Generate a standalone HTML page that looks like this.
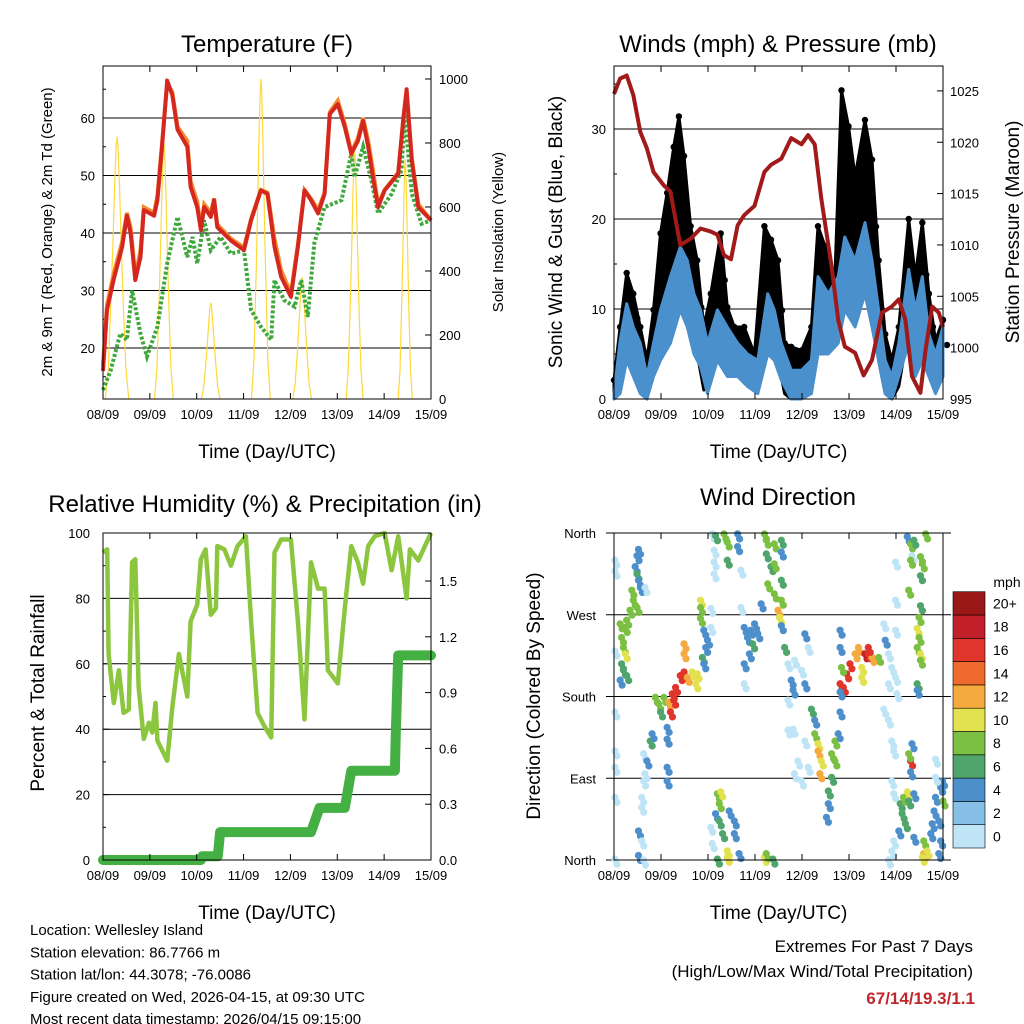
<!DOCTYPE html>
<html><head><meta charset="utf-8">
<style>
body{margin:0;background:#fff;}
svg{display:block;font-family:"Liberation Sans",sans-serif;}
</style></head>
<body>
<svg id="c" width="1024" height="1024" viewBox="0 0 1024 1024"></svg>
<script>
// ---------- DATA ----------
const dayLabels=["08/09","09/09","10/09","11/09","12/09","13/09","14/09","15/09"];
// Temperature (day, F)
const tDays=[0,0.086,0.23,0.41,0.51,0.59,0.69,0.8,0.87,1.09,1.16,1.26,1.37,1.48,1.59,1.8,1.87,2.01,2.09,2.16,2.3,2.37,2.44,2.73,3.01,3.16,3.37,3.51,3.66,3.8,4.01,4.16,4.3,4.44,4.59,4.73,4.84,5.01,5.16,5.3,5.44,5.55,5.66,5.76,5.87,6.01,6.3,6.41,6.48,6.59,6.73,7.0];
const tempRed=[16,26.6,32,37.6,43,40,31.8,35.8,44,43,45.7,55,66.5,64,58,55,48,44.5,40.5,44.5,42.8,45.7,41,38.7,37,42.2,47.4,46.8,37.6,32.4,28.9,37.6,47.4,45.7,43.4,46.8,60.7,62.4,58.4,53.8,56,59.5,55,49.7,44.5,47.4,50.3,60,65,52.6,44.5,42.2];
const tempOrange=[17,27.5,33,38.5,43.5,41,32.5,37,44.5,43.5,46.5,55.5,66,64.5,58.5,56,49,45.5,41,45,43.5,46,41.5,39,37.5,42.5,47.5,47,39,33.5,29.5,38,47.5,46,44,47,61,63,59,54,56.5,60,56,51,45,47.5,50.5,60,64.5,53,45,42.2];
const tdDays=[0,0.16,0.37,0.51,0.62,0.8,0.94,1.16,1.37,1.59,1.8,1.91,2.01,2.16,2.3,2.51,2.73,3.01,3.16,3.37,3.59,3.66,3.87,4.09,4.23,4.37,4.51,4.73,5.09,5.3,5.37,5.55,5.73,5.87,6.16,6.37,6.44,6.59,6.8,7.0];
const dewpoint=[12.7,16,22.5,21.4,30,22.5,18.5,23.7,34.7,42.8,35.8,39.3,34.7,42.2,37,39.3,36.4,37,26.6,23.7,21.4,31.8,28.3,27.2,31.8,25.4,38.2,44.5,45.7,53.8,49.7,55,49.1,43.4,46.8,50.9,60.7,46.8,41.6,42.2];
const solarPeakDay=[0.3,1.3,2.3,3.37,4.25,5.37,6.45];
const solarPeak=[820,800,300,1000,380,780,750];
const solarHalfWidth=[0.25,0.2,0.2,0.2,0.2,0.18,0.15];
// Winds
const gDays=[0,0.13,0.27,0.41,0.56,0.7,0.84,0.99,1.13,1.27,1.38,1.49,1.63,1.77,1.91,2.06,2.27,2.41,2.56,2.77,2.99,3.2,3.34,3.49,3.63,3.77,3.99,4.2,4.34,4.49,4.7,4.84,4.99,5.13,5.34,5.49,5.63,5.77,5.91,6.06,6.27,6.41,6.56,6.7,6.84,7.0];
const gustHi=[2.1,8,14,11.7,8,4.3,9.9,18.4,22.9,28,31.4,27,19.2,15.4,8,11.7,18.4,10.2,8,8,5,19.2,17.7,15.4,6.2,5.8,5.4,8,19.2,17,13.6,34.3,30.3,24.7,31,26.6,15.4,7.2,4.3,8,20,13.6,19.6,11.7,6.5,8.8];
const gustLo=[0,2.5,8,6.2,2.5,0,4.3,9.9,12.5,15.5,17.3,11.7,8,5,1,2.5,8,4.3,2.5,2.5,1,8.8,8,4.3,0.6,0,0,1.4,8,6.2,6.2,17.3,15.5,13.6,13.6,11.7,4.3,0.6,0,1.4,8,5,8,4.3,2.5,3.2];
const wDays=[0,0.13,0.27,0.41,0.56,0.7,0.84,0.99,1.2,1.41,1.56,1.7,1.84,1.99,2.2,2.41,2.63,2.84,3.06,3.27,3.41,3.56,3.77,3.99,4.2,4.34,4.56,4.77,4.91,5.13,5.34,5.49,5.63,5.77,5.91,6.06,6.27,6.41,6.56,6.7,6.84,7.0];
const windHi=[0.6,6.5,10.6,8,6.2,2.5,6.2,9.9,13.6,16.9,15.4,11.7,9.9,6.2,9.9,8,6.2,5,4.3,11.7,9.9,6.2,3.2,3.2,4.3,13.6,11.7,13.6,18,15.4,19.6,15.4,9.9,4.3,2.5,6.2,14.4,9.9,13.6,7.2,5,8];
const windLo=[0,0.6,4.3,2.5,0.6,0,2.5,4.3,6.2,9.9,8,5,3.6,0.6,4.3,2.5,2.5,1.4,0.6,5,4.3,2.1,0,0,0.6,5,5,6.2,9.9,8,11.7,8,4.3,0.6,0,2.5,6.2,2.5,4.3,2.5,0.6,2.5];
const pDays=[0,0.13,0.27,0.41,0.56,0.7,0.84,1.06,1.2,1.41,1.63,1.84,2.06,2.2,2.34,2.49,2.63,2.77,2.99,3.2,3.34,3.56,3.77,3.99,4.13,4.27,4.41,4.63,4.77,4.91,5.13,5.31,5.49,5.7,5.91,6.06,6.2,6.34,6.52,6.63,6.77,6.91,7.0];
const pressure=[1024.7,1026.2,1026.5,1024.6,1021,1019.4,1017.1,1015.8,1015.2,1010,1010.6,1011.6,1011.3,1011,1009,1008.6,1011.9,1012.9,1013.8,1017.1,1017.8,1018.4,1020.4,1019.8,1020.7,1019.8,1014.5,1007.9,1002.7,1000.1,999.5,997.3,998.8,1003.4,1004,1004.7,1002.7,997.2,995.6,999.8,1004,1003.4,1002];
// RH & precip
const rhDays=[0,0.09,0.12,0.23,0.34,0.44,0.55,0.62,0.69,0.76,0.87,0.98,1.05,1.12,1.16,1.37,1.48,1.62,1.8,1.87,2.01,2.09,2.19,2.3,2.41,2.44,2.59,2.73,2.87,3.05,3.16,3.3,3.44,3.59,3.66,3.8,4.01,4.16,4.3,4.44,4.59,4.73,4.8,5.01,5.16,5.3,5.44,5.55,5.66,5.8,6.01,6.16,6.3,6.48,6.55,6.73,7.0];
const rh=[94,95,63,48,58,45,46,91,92,53,37,42,39,48,36.5,30.4,46.7,63,50,73,78,92,95,75,77,96,95,90,96,99,73,45,41,37.5,94,98,98,73,43,91,83,83,58,54,77,96,91,84.5,96,99,100,88.6,99,80,95,91.6,100];
const prDays=[0,2.09,2.12,2.45,2.5,4.44,4.62,5.16,5.3,6.23,6.25,6.3,7.0];
const precip=[0,0,0.02,0.02,0.15,0.15,0.28,0.28,0.48,0.48,0.7,1.1,1.1];
// Wind direction observations [day, degrees, mph]
const dirObs=[[0.02,330,1],[0.02,318,1],[0.02,230,1],[0.02,163,1],[0.02,120,1],[0.02,102,1],[0.02,69,1],[0.02,1,1],
[.13,260,9],[.16,245,9],[.2,234,9],[.24,227,11],[.16,216,7],[.2,209,7],[.27,203,7],[.13,198,5],[.24,256,9],[.27,264,9],
[.52,342,5],[.49,335,5],[.45,323,5],[.49,315,7],[.52,308,5],[.38,297,9],[.41,286,9],[.34,275,9],[.49,278,9],[.56,300,5],[.66,300,1],
[.63,117,1],[.7,109,5],[.77,131,7],[.81,139,5],[.63,87,1],[.59,69,1],[.66,95,1],[1.13,102,5],[1.13,87,5],[1.13,146,5],[1.13,133,5],[.59,58,1],[.52,32,5],[.59,21,1],[.52,5,5],[.63,0,1],
[.88,179,9],[.95,172,9],[1.06,179,9],[.99,163,7],[1.16,174,13],[1.24,183,17],[1.31,190,17],[1.27,176,17],[1.2,163,17],
[1.41,203,17],[1.49,207,17],[1.56,201,13],[1.66,207,11],[1.77,205,11],[1.74,194,11],[1.49,227,13],[1.49,238,13],[1.84,286,11],[1.84,266,9],[1.84,278,9],
[1.91,253,5],[1.99,242,5],[1.95,234,5],[1.88,223,7],[1.91,216,5],[2.06,256,1],[2.06,277,1],
[2.09,359,1],[2.16,357,7],[2.34,359,9],[2.41,350,9],[2.13,341,1],[2.13,328,1],[2.13,315,1],[2.41,330,7],[2.63,359,5],[2.63,345,5],[2.7,319,1],
[2.2,73,9],[2.27,75,11],[2.24,62,9],[2.16,51,5],[2.24,43,7],[2.45,54,5],[2.31,29,7],[2.41,10,11],[2.41,3,11],[2.2,1,7],[2.56,29,5],[2.09,18,1],[2.06,36,1],[2.66,7,5],[2.56,43,5],
[2.77,256,5],[2.91,253,5],[2.99,260,5],[3.06,249,5],[2.84,245,5],[2.95,238,7],[2.88,227,5],[2.77,216,5],[2.7,278,1],[2.77,194,1],
[3.2,359,9],[3.24,352,9],[3.41,348,9],[3.56,352,7],[3.56,339,5],[3.24,337,7],[3.34,323,7],[3.41,326,9],[3.27,304,9],[3.41,293,9],[3.56,286,9],[3.49,275,13],[3.52,267,11],[3.56,308,7],[3.2,3,11],[3.24,7,9],[3.38,1,7],[3.13,282,5],[3.56,258,5],
[3.63,234,7],[3.7,216,1],[3.77,198,5],[3.84,220,1],[3.99,209,1],[4.06,249,5],[4.13,234,1],[3.7,176,1],[3.81,187,5],[4.06,194,5],
[4.2,166,7],[4.27,154,5],[4.27,139,9],[4.34,128,11],[4.34,120,13],[4.41,109,11],[4.38,95,13],[4.63,117,9],[4.7,109,9],[4.63,91,7],[4.56,76,7],[4.7,131,9],[4.77,139,5],[3.84,95,1],[3.99,87,1],[3.91,109,1],[4.13,102,1],[3.7,143,1],[3.81,144,1],[4.06,131,1],[4.56,62,5],[4.52,47,5],
[4.81,194,17],[4.88,190,17],[4.95,205,17],[5.02,216,17],[5.13,227,13],[5.2,234,13],[5.27,212,11],[5.27,201,11],[5.34,227,19],[5.41,227,17],[5.49,223,13],[5.41,234,17],[5.63,223,9],[4.84,212,9],[4.81,253,5],[4.81,234,5],[4.81,185,5],[4.81,163,5],
[5.74,260,1],[5.77,242,5],[5.84,227,1],[5.91,212,1],[5.99,201,1],[5.84,194,1],[6.02,183,1],[5.99,253,1],[5.74,166,1],[5.84,154,1],[5.91,131,1],[5.95,120,1],[5.99,286,1],[5.99,328,1],
[5.91,87,1],[5.95,73,1],[6.09,62,7],[6.16,69,9],[6.24,75,11],[6.13,51,7],[6.2,40,7],[6.06,32,5],[6.27,65,7],[6.38,73,5],[6.34,128,5],[6.31,109,17],[6.31,97,5],[6.27,117,9],[6.38,25,5],[5.95,21,1],[5.91,10,1],[5.84,0,1],
[6.24,356,5],[6.31,348,9],[6.38,352,7],[6.34,335,1],[6.31,330,9],[6.52,334,9],[6.56,326,9],[6.52,313,7],[6.27,297,9],[6.52,280,7],[6.49,267,9],[6.45,255,11],[6.49,245,9],[6.45,234,9],[6.52,227,11],[6.52,220,9],[6.45,194,7],[6.45,187,5],[6.63,359,9],
[6.59,21,9],[6.59,7,13],[6.56,3,11],[6.66,10,11],[6.74,29,5],[6.77,40,5],[6.81,54,5],[6.84,69,5],[6.95,80,5],[6.99,87,5],[7.0,65,9],[6.91,43,5],[6.95,21,5],[6.91,7,5],[6.84,111,1],[6.84,91,1]];
const cbLabels=["0","2","4","6","8","10","12","14","16","18","20+"];
const cbColors=["#bfe4f6","#86c0e7","#4d8fcb","#4fa56b","#7cc043","#e2e150","#f5aa3f","#ee6a2d","#df352a","#c11f29","#9a1818"];

// ---------- HELPERS ----------
const NS="http://www.w3.org/2000/svg";
const svg=document.getElementById('c');
function mk(tag,attrs,name,parent){
  const el=document.createElementNS(NS,tag);
  for(const k in attrs) el.setAttribute(k,attrs[k]);
  
  
  (parent||svg).appendChild(el);
  return el;
}
function txt(x,y,s,size,anchor,name,extra){
  const a=Object.assign({x:x,y:y,'font-size':size,'text-anchor':anchor||'middle',fill:'#000'},extra||{});
  const t=mk('text',a,name);t.textContent=s;return t;
}
function vtxt(x,y,s,size,name){
  const t=mk('text',{x:0,y:0,'font-size':size,'text-anchor':'middle',transform:`translate(${x},${y}) rotate(-90)`},name);
  t.textContent=s;return t;
}
function pts(xs,ys,fx,fy){return xs.map((d,i)=>fx(d).toFixed(1)+','+fy(ys[i]).toFixed(1)).join(' ');}

function frame(P,name){
  mk('rect',{x:P.x0,y:P.y0,width:P.x1-P.x0,height:P.y1-P.y0,fill:'none',stroke:'#000','stroke-width':1},name+'-frame');
  const fx=d=>P.x0+(P.x1-P.x0)*d/7;
  dayLabels.forEach((l,i)=>{
    mk('line',{x1:fx(i),x2:fx(i),y1:P.y1,y2:P.y1-6,stroke:'#000'},name+'-xtick');
    mk('line',{x1:fx(i),x2:fx(i),y1:P.y0,y2:P.y0+6,stroke:'#000'},name+'-xtick-top');
    txt(fx(i),P.y1+20,l,13,'middle',name+'-xtick-label');
  });
  txt((P.x0+P.x1)/2,P.y1+59,'Time (Day/UTC)',19,'middle',name+'-x-axis-title');
  return fx;
}

// ---------- PANEL 1: Temperature ----------
{
  const P={x0:103,x1:431,y0:66,y1:399};
  const fy=v=>399-(v-11.13)*5.75;
  const fs=v=>399-v*0.32;
  const fx=d=>P.x0+(P.x1-P.x0)*d/7;
  [20,30,40,50,60].forEach(v=>{
    mk('line',{x1:P.x0,x2:P.x1,y1:fy(v),y2:fy(v),stroke:'#000','stroke-width':1},'temp-gridline');
    txt(P.x0-8,fy(v)+5,String(v),13,'end','temp-ytick-label');
  });
  for(let v=15;v<=65;v+=5){mk('line',{x1:P.x0,x2:P.x0+(v%10?3:6),y1:fy(v),y2:fy(v),stroke:'#000'},'temp-ytick');}
  [0,200,400,600,800,1000].forEach(v=>{
    mk('line',{x1:P.x1,x2:P.x1-6,y1:fs(v),y2:fs(v),stroke:'#000'},'solar-ytick');
    txt(P.x1+8,fs(v)+5,String(v),13,'start','solar-ytick-label');
  });
  solarPeakDay.forEach((d,i)=>{
    const w=solarHalfWidth[i];
    const offs=[-1,-0.75,-0.5,-0.35,-0.2,-0.08,0,0.08,0.2,0.35,0.5,0.75,1];
    const sh=[0,0.12,0.4,0.6,0.82,0.96,1,0.96,0.82,0.6,0.4,0.12,0];
    const p=offs.map((o,k)=>fx(Math.min(7,Math.max(0,d+o*w))).toFixed(1)+','+fs(solarPeak[i]*sh[k]).toFixed(1)).join(' ');
    mk('polyline',{points:p,fill:'none',stroke:'#ffd83a','stroke-width':1.2},'solar-insolation-line');
  });
  mk('polyline',{points:pts(tdDays,dewpoint,fx,fy),fill:'none',stroke:'#3ea83d','stroke-width':4,'stroke-dasharray':'3,2'},'dewpoint-line');
  mk('polyline',{points:pts(tDays,tempOrange,fx,fy),fill:'none',stroke:'#f28c2e','stroke-width':4},'temp-9m-line');
  mk('polyline',{points:pts(tDays,tempRed,fx,fy),fill:'none',stroke:'#d4271f','stroke-width':4,'stroke-linejoin':'round'},'temp-2m-line');
  frame(P,'temp');
  txt(267,52,'Temperature (F)',24,'middle','temp-title');
  vtxt(52,232,'2m & 9m T (Red, Orange) & 2m Td (Green)',15,'temp-y-axis-title');
  vtxt(503,232,'Solar Insolation (Yellow)',15,'solar-y-axis-title');
}

// ---------- PANEL 2: Winds ----------
{
  const P={x0:614,x1:943,y0:66,y1:399};
  const fy=v=>399-v*9;
  const fp=v=>399-(v-995)*10.27;
  const fx=d=>P.x0+(P.x1-P.x0)*d/7;
  [10,20,30].forEach(v=>mk('line',{x1:P.x0,x2:P.x1,y1:fy(v),y2:fy(v),stroke:'#000'},'wind-gridline'));
  [0,10,20,30].forEach(v=>txt(P.x0-8,fy(v)+5,String(v),13,'end','wind-ytick-label'));
  for(let v=5;v<=35;v+=5){mk('line',{x1:P.x0,x2:P.x0+(v%10?3:6),y1:fy(v),y2:fy(v),stroke:'#000'},'wind-ytick');}
  [995,1000,1005,1010,1015,1020,1025].forEach(v=>{
    mk('line',{x1:P.x1,x2:P.x1-6,y1:fp(v),y2:fp(v),stroke:'#000'},'pressure-ytick');
    txt(P.x1+7,fp(v)+5,String(v),13,'start','pressure-ytick-label');
  });
  const band=(days,hi,lo,fill,name)=>{
    const a=days.map((d,i)=>fx(d).toFixed(1)+','+fy(hi[i]).toFixed(1));
    const b=days.map((d,i)=>fx(d).toFixed(1)+','+fy(lo[i]).toFixed(1)).reverse();
    mk('polygon',{points:a.concat(b).join(' '),fill:fill,stroke:fill,'stroke-width':3,'stroke-linejoin':'round'},name);
  };
  band(gDays,gustHi,gustLo,'#000','gust-band');
  gDays.forEach((d,i)=>{
    mk('circle',{cx:fx(d),cy:fy(gustHi[i]),r:3.2,fill:'#000'},'gust-point');
    mk('circle',{cx:fx(d)+4,cy:fy((gustHi[i]+gustLo[i])/2),r:3.2,fill:'#000'},'gust-point');
  });
  band(wDays,windHi,windLo,'#4a90cc','wind-band');
  mk('polyline',{points:pts(pDays,pressure,fx,fp),fill:'none',stroke:'#a01a1a','stroke-width':4,'stroke-linejoin':'round'},'pressure-line');
  frame(P,'wind');
  txt(778,52,'Winds (mph) & Pressure (mb)',24,'middle','wind-title');
  vtxt(562,232,'Sonic Wind & Gust (Blue, Black)',19,'wind-y-axis-title');
  vtxt(1019,232,'Station Pressure (Maroon)',19,'pressure-y-axis-title');
}

// ---------- PANEL 3: RH & Precip ----------
{
  const P={x0:103,x1:431,y0:533,y1:860};
  const fy=v=>860-v*3.27;
  const fr=v=>860-v*186;
  const fx=d=>P.x0+(P.x1-P.x0)*d/7;
  [20,40,60,80].forEach(v=>mk('line',{x1:P.x0,x2:P.x1,y1:fy(v),y2:fy(v),stroke:'#000'},'rh-gridline'));
  [0,20,40,60,80,100].forEach(v=>txt(P.x0-13,fy(v)+5,String(v),13,'end','rh-ytick-label'));
  for(let v=10;v<=100;v+=10){mk('line',{x1:P.x0,x2:P.x0+(v%20?3:6),y1:fy(v),y2:fy(v),stroke:'#000'},'rh-ytick');}
  [0,0.3,0.6,0.9,1.2,1.5].forEach(v=>{
    mk('line',{x1:P.x1,x2:P.x1-6,y1:fr(v),y2:fr(v),stroke:'#000'},'precip-ytick');
    txt(P.x1+8,fr(v)+5,v.toFixed(1),13,'start','precip-ytick-label');
  });
  mk('polyline',{points:pts(rhDays,rh,fx,fy),fill:'none',stroke:'#8cc63f','stroke-width':4.5,'stroke-linejoin':'round'},'rh-line');
  mk('polyline',{points:pts(prDays,precip,fx,fr),fill:'none',stroke:'#44b044','stroke-width':10,'stroke-linejoin':'round','stroke-linecap':'round'},'precip-line');
  frame(P,'rh');
  txt(265,512,'Relative Humidity (%) & Precipitation (in)',24,'middle','rh-title');
  vtxt(44,693,'Percent & Total Rainfall',19,'rh-y-axis-title');
}

// ---------- PANEL 4: Wind direction ----------
{
  const P={x0:614,x1:943,y0:533,y1:860};
  const fy=v=>860-v*327/360;
  const fx=d=>P.x0+(P.x1-P.x0)*d/7;
  const names=["North","East","South","West","North"];
  names.forEach((n,i)=>{
    const y=fy(i*90);
    mk('line',{x1:P.x0-8,x2:P.x1+8,y1:y,y2:y,stroke:'#000'},'dir-gridline');
    txt(P.x0-18,y+5,n,13,'end','dir-ytick-label');
  });
  dirObs.forEach(o=>{
    const c=cbColors[Math.min(10,Math.floor(o[2]/2))];
    mk('circle',{cx:fx(o[0]),cy:fy(o[1]),r:3.6,fill:c},'dir-point');
    mk('circle',{cx:fx(o[0])+2,cy:fy(o[1])+5,r:3.6,fill:c},'dir-point');
  });
  frame(P,'dir');
  txt(778,505,'Wind Direction',24,'middle','dir-title');
  vtxt(540,696,'Direction (Colored By Speed)',19,'dir-y-axis-title');
  const h=23.3;
  cbColors.forEach((c,i)=>{
    const y=848-(i+1)*h;
    mk('rect',{x:953,y:y,width:32,height:h,fill:c,stroke:'#000','stroke-width':0.6},'colorbar-box');
    txt(993,y+h/2+5,cbLabels[i],14,'start','colorbar-label');
  });
  txt(1007,587,'mph',14,'middle','colorbar-title');
}

// ---------- Footer ----------
const info=["Location: Wellesley Island","Station elevation: 86.7766 m","Station lat/lon: 44.3078; -76.0086","Figure created on Wed, 2026-04-15, at 09:30 UTC","Most recent data timestamp: 2026/04/15 09:15:00"];
info.forEach((s,i)=>txt(30,935+i*22.3,s,15,'start','station-info-line'));
txt(973,952,'Extremes For Past 7 Days',17,'end','extremes-title');
txt(973,977,'(High/Low/Max Wind/Total Precipitation)',17,'end','extremes-subtitle');
txt(975,1004,'67/14/19.3/1.1',17,'end','extremes-values',{fill:'#c0272d','font-weight':'bold'});
</script>
</body></html>
